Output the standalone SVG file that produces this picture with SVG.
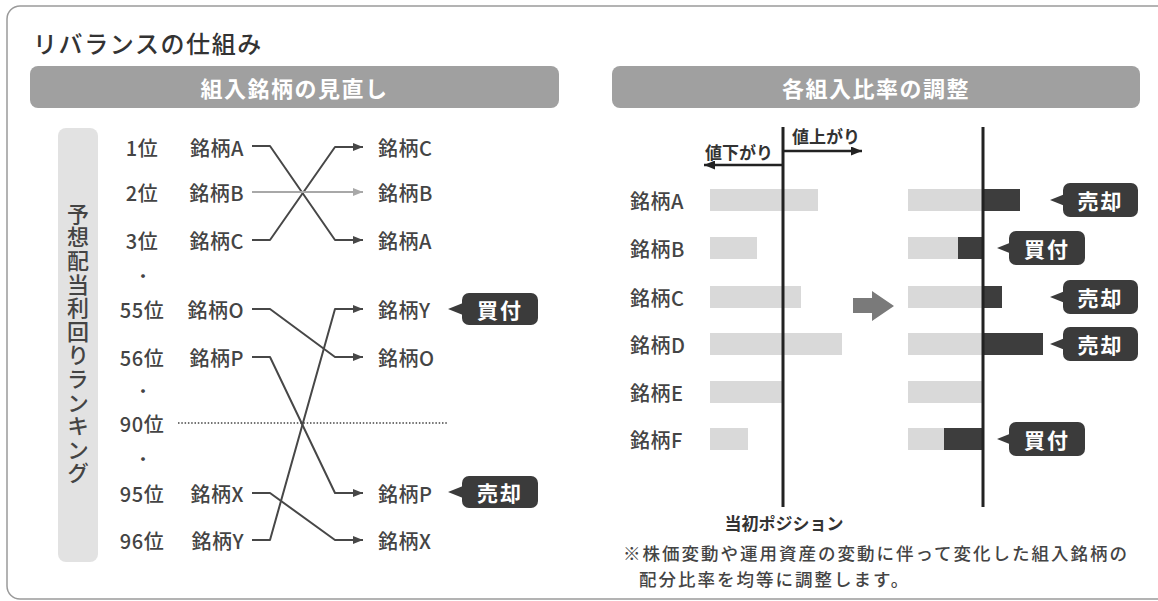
<svg xmlns="http://www.w3.org/2000/svg" width="1158" height="601" viewBox="0 0 1158 601">
<defs>
<style>
text{font-family:"Noto Sans CJK JP","Noto Sans",sans-serif;dominant-baseline:central}
.title{font-size:24px;font-weight:500;fill:#333;letter-spacing:1.6px}
.hdrbar{fill:#a0a0a0}
.hdr{font-size:22px;font-weight:bold;fill:#fff;text-anchor:middle;letter-spacing:1.5px}
.rank{font-size:20px;font-weight:500;fill:#444;text-anchor:middle;letter-spacing:0.5px}
.stk{font-size:20px;font-weight:500;fill:#444;letter-spacing:0.5px}
.stkR{font-size:20px;font-weight:500;fill:#444;text-anchor:end;letter-spacing:0.5px}
.dot{font-size:18px;fill:#444;text-anchor:middle}
.conn{fill:none;stroke:#474747;stroke-width:2;stroke-linejoin:round}
.badge rect,.badge polygon{fill:#3b3b3b}
.badge text{font-size:21px;font-weight:bold;fill:#fff;text-anchor:middle;letter-spacing:2px}
.lbar{fill:#d9d9d9}
.dbar{fill:#3d3d3d}
.axis{stroke:#222;stroke-width:3}
.small{font-size:17px;font-weight:bold;fill:#333}
.note{font-size:17.5px;font-weight:500;fill:#444;letter-spacing:2px}
</style>
<marker id="ah" markerUnits="userSpaceOnUse" markerWidth="10" markerHeight="8" refX="10" refY="4" orient="auto"><path d="M0,0 L10,4 L0,8 z" fill="#474747"/></marker>
<marker id="ahg" markerUnits="userSpaceOnUse" markerWidth="10" markerHeight="8" refX="10" refY="4" orient="auto"><path d="M0,0 L10,4 L0,8 z" fill="#a8a8a8"/></marker>
<marker id="ahb" markerUnits="userSpaceOnUse" markerWidth="11" markerHeight="9" refX="11" refY="4.5" orient="auto"><path d="M0,0 L11,4.5 L0,9 z" fill="#222"/></marker>
</defs>

<rect x="7" y="6" width="1175" height="593" rx="13" fill="#fff" stroke="#9a9a9a" stroke-width="1.5"/>
<text class="title" x="33" y="42">リバランスの仕組み</text>

<g id="header-left">
<rect class="hdrbar" x="30" y="66" width="529" height="42" rx="8"/>
<text class="hdr" x="294.5" y="87">組入銘柄の見直し</text>
</g>
<g id="header-right">
<rect class="hdrbar" x="612" y="66" width="528" height="42" rx="8"/>
<text class="hdr" x="876" y="87">各組入比率の調整</text>
</g>

<g id="ranking-label">
<rect x="58" y="128" width="40" height="434" rx="8" fill="#e2e2e2"/>
<text x="78" y="344" style="writing-mode:vertical-rl;text-anchor:middle;font-size:22px;font-weight:500;fill:#444;letter-spacing:1.6px;dominant-baseline:auto">予想配当利回りランキング</text>
</g>

<g id="ranks">
<text class="rank" x="142" y="147">1位</text>
<text class="rank" x="142" y="192">2位</text>
<text class="rank" x="142" y="240">3位</text>
<text class="dot" x="143" y="275">・</text>
<text class="rank" x="142" y="309">55位</text>
<text class="rank" x="142" y="357">56位</text>
<text class="dot" x="143" y="390">・</text>
<text class="rank" x="142" y="423">90位</text>
<text class="dot" x="143" y="458">・</text>
<text class="rank" x="142" y="493">95位</text>
<text class="rank" x="142" y="540">96位</text>
</g>

<g id="before-list">
<text class="stkR" x="244" y="147">銘柄A</text>
<text class="stkR" x="244" y="192">銘柄B</text>
<text class="stkR" x="244" y="240">銘柄C</text>
<text class="stkR" x="244" y="309">銘柄O</text>
<text class="stkR" x="244" y="357">銘柄P</text>
<text class="stkR" x="244" y="493">銘柄X</text>
<text class="stkR" x="244" y="540">銘柄Y</text>
</g>

<g id="after-list">
<text class="stk" x="378" y="147">銘柄C</text>
<text class="stk" x="378" y="192">銘柄B</text>
<text class="stk" x="378" y="240">銘柄A</text>
<text class="stk" x="378" y="309">銘柄Y</text>
<text class="stk" x="378" y="357">銘柄O</text>
<text class="stk" x="378" y="493">銘柄P</text>
<text class="stk" x="378" y="540">銘柄X</text>
</g>

<g id="connectors">
<polyline class="conn" points="252,146 270,146 335,240 363,240" marker-end="url(#ah)"/>
<polyline class="conn" points="252,240 270,240 335,147 363,147" marker-end="url(#ah)"/>
<line x1="252" y1="192" x2="363" y2="192" stroke="#a8a8a8" stroke-width="2" marker-end="url(#ahg)"/>
<polyline class="conn" points="252,309 270,309 335,357 363,357" marker-end="url(#ah)"/>
<polyline class="conn" points="252,357 270,357 335,493 363,493" marker-end="url(#ah)"/>
<polyline class="conn" points="252,493 270,493 335,540 363,540" marker-end="url(#ah)"/>
<polyline class="conn" points="252,540 270,540 335,309 363,309" marker-end="url(#ah)"/>
<line x1="178" y1="423" x2="448" y2="423" stroke="#444" stroke-width="1.6" stroke-dasharray="1.5 1.8"/>
</g>

<g id="badge-left-buy" class="badge" transform="translate(448,309)">
<polygon points="0,0 15,-6 15,6"/><rect x="14" y="-16" width="76" height="32" rx="7"/><text x="52" y="0">買付</text>
</g>
<g id="badge-left-sell" class="badge" transform="translate(448,492)">
<polygon points="0,0 15,-6 15,6"/><rect x="14" y="-16" width="76" height="32" rx="7"/><text x="52" y="0">売却</text>
</g>

<g id="direction">
<text class="small" x="792" y="135">値上がり</text>
<text class="small" x="705" y="151">値下がり</text>
<line x1="783" y1="151" x2="862" y2="151" stroke="#222" stroke-width="2.5" marker-end="url(#ahb)"/>
<line x1="783" y1="165" x2="704" y2="165" stroke="#222" stroke-width="2.5" marker-end="url(#ahb)"/>
</g>

<g id="labels-right">
<text class="stk" x="630" y="200">銘柄A</text>
<text class="stk" x="630" y="248">銘柄B</text>
<text class="stk" x="630" y="297">銘柄C</text>
<text class="stk" x="630" y="344">銘柄D</text>
<text class="stk" x="630" y="392">銘柄E</text>
<text class="stk" x="630" y="439">銘柄F</text>
</g>

<g id="bars-before">
<rect class="lbar" x="710" y="189" width="108" height="22"/>
<rect class="lbar" x="710" y="237" width="47" height="22"/>
<rect class="lbar" x="710" y="286" width="91" height="22"/>
<rect class="lbar" x="710" y="333" width="132" height="22"/>
<rect class="lbar" x="710" y="381" width="73" height="22"/>
<rect class="lbar" x="710" y="428" width="38" height="22"/>
</g>
<g id="bars-after">
<rect class="lbar" x="908" y="189" width="75" height="22"/><rect class="dbar" x="983" y="189" width="37" height="22"/>
<rect class="lbar" x="908" y="237" width="50" height="22"/><rect class="dbar" x="958" y="237" width="25" height="22"/>
<rect class="lbar" x="908" y="286" width="75" height="22"/><rect class="dbar" x="983" y="286" width="19" height="22"/>
<rect class="lbar" x="908" y="333" width="75" height="22"/><rect class="dbar" x="983" y="333" width="60" height="22"/>
<rect class="lbar" x="908" y="381" width="75" height="22"/>
<rect class="lbar" x="908" y="428" width="36" height="22"/><rect class="dbar" x="944" y="428" width="39" height="22"/>
</g>

<g id="axes">
<line class="axis" x1="783" y1="127" x2="783" y2="507"/>
<line class="axis" x1="983" y1="127" x2="983" y2="507"/>
</g>

<g id="big-arrow">
<polygon points="853,298 872,298 872,291 894,306 872,321 872,313 853,313" fill="#7a7a7a"/>
</g>

<g id="badge-a" class="badge" transform="translate(1050,200)">
<polygon points="0,0 15,-6 15,6"/><rect x="13" y="-17" width="75" height="34" rx="7"/><text x="50.5" y="0">売却</text>
</g>
<g id="badge-b" class="badge" transform="translate(997,248)">
<polygon points="0,0 15,-6 15,6"/><rect x="12" y="-17" width="76" height="34" rx="7"/><text x="50" y="0">買付</text>
</g>
<g id="badge-c" class="badge" transform="translate(1050,297)">
<polygon points="0,0 15,-6 15,6"/><rect x="13" y="-17" width="75" height="34" rx="7"/><text x="50.5" y="0">売却</text>
</g>
<g id="badge-d" class="badge" transform="translate(1050,344)">
<polygon points="0,0 15,-6 15,6"/><rect x="13" y="-17" width="75" height="34" rx="7"/><text x="50.5" y="0">売却</text>
</g>
<g id="badge-f" class="badge" transform="translate(997,439)">
<polygon points="0,0 15,-6 15,6"/><rect x="12" y="-17" width="76" height="34" rx="7"/><text x="50" y="0">買付</text>
</g>

<text class="small" x="784" y="522" text-anchor="middle">当初ポジション</text>
<g id="note">
<text class="note" x="623" y="552">※株価変動や運用資産の変動に伴って変化した組入銘柄の</text>
<text class="note" x="639" y="578">配分比率を均等に調整します。</text>
</g>
</svg>
